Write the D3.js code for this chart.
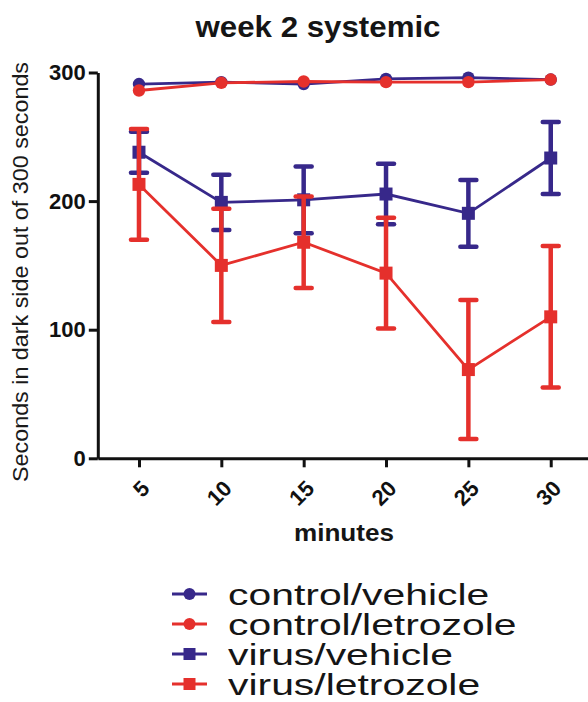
<!DOCTYPE html>
<html>
<head>
<meta charset="utf-8">
<script src="https://cdn.jsdelivr.net/npm/d3@7"></script>
<style>
  html, body { margin: 0; padding: 0; background: #fff; }
  svg { display: block; font-family: "Liberation Sans", Arial, sans-serif; }
</style>
</head>
<body>
<svg id="chart" width="588" height="702"></svg>
<script>
// ---- data ----
const minutes = [5, 10, 15, 20, 25, 30];
const xTicks = [5, 10, 15, 20, 25, 30];
const yTicks = [0, 100, 200, 300];
const seriesNames = ["control/vehicle", "control/letrozole", "virus/vehicle", "virus/letrozole"];
const ctrlVehicle = [291, 292.5, 291, 295, 296, 294.5];
const ctrlLetrozole = [286, 292, 293, 292.5, 292.5, 294.5];
const virusVehicle = [238, 199, 201, 205.5, 190.5, 233.5];
const virusVehicleErr = [16, 21.5, 26, 23.5, 26, 28];
const virusLetrozole = [213, 150, 168, 144, 69, 110];
const virusLetrozoleErr = [43, 44, 35.5, 43, 54, 55];

const NAVY = "#37288a";
const RED = "#e5302c";

const series = [
  { name: seriesNames[0], values: ctrlVehicle, err: null, color: NAVY, shape: "circle" },
  { name: seriesNames[1], values: ctrlLetrozole, err: null, color: RED, shape: "circle" },
  { name: seriesNames[2], values: virusVehicle, err: virusVehicleErr, color: NAVY, shape: "square" },
  { name: seriesNames[3], values: virusLetrozole, err: virusLetrozoleErr, color: RED, shape: "square" }
];

const svg = d3.select("#chart");
const x = d3.scaleLinear().domain([2.5, 32.5]).range([97.8, 591.9]);
const y = d3.scaleLinear().domain([0, 300]).range([458.3, 72.5]);

// title
svg.append("text")
  .attr("x", 318).attr("y", 37)
  .attr("text-anchor", "middle")
  .attr("font-size", 29).attr("font-weight", "bold")
  .attr("textLength", 245).attr("lengthAdjust", "spacingAndGlyphs")
  .attr("fill", "#151515")
  .text("week 2 systemic");

// y axis
const yAxis = svg.append("g")
  .attr("transform", `translate(${x(2.5)},0)`)
  .call(d3.axisLeft(y).tickValues(yTicks).tickSize(9).tickPadding(3).tickSizeOuter(0));
yAxis.select(".domain").attr("stroke", "#111").attr("stroke-width", 3);
yAxis.selectAll(".tick line").attr("stroke", "#111").attr("stroke-width", 3);
yAxis.selectAll(".tick text")
  .attr("font-size", 22).attr("font-weight", "bold").attr("fill", "#111")
  .attr("font-family", "'Liberation Sans', Arial, sans-serif");

// x axis
const xAxis = svg.append("g")
  .attr("transform", `translate(0,${y(0)})`)
  .call(d3.axisBottom(x).tickValues(xTicks).tickSize(9).tickSizeOuter(0).tickFormat(d3.format("d")));
xAxis.select(".domain").attr("stroke", "#111").attr("stroke-width", 3);
xAxis.selectAll(".tick line").attr("stroke", "#111").attr("stroke-width", 3);
xAxis.selectAll(".tick text")
  .attr("font-size", 22).attr("font-weight", "bold").attr("fill", "#111")
  .attr("font-family", "'Liberation Sans', Arial, sans-serif")
  .attr("text-anchor", "end")
  .attr("transform", "translate(6,26) rotate(-45)")
  .attr("x", 0).attr("y", 0).attr("dy", "0.35em");

// axis labels
svg.append("text")
  .attr("x", 344).attr("y", 541)
  .attr("text-anchor", "middle")
  .attr("font-size", 24).attr("font-weight", "bold")
  .attr("textLength", 100).attr("lengthAdjust", "spacingAndGlyphs")
  .attr("fill", "#151515")
  .text("minutes");

svg.append("text")
  .attr("transform", "translate(28,272) rotate(-90)")
  .attr("text-anchor", "middle")
  .attr("font-size", 22.5)
  .attr("textLength", 420).attr("lengthAdjust", "spacingAndGlyphs")
  .attr("fill", "#1a1a1a")
  .text("Seconds in dark side out of 300 seconds");

// series
const line = d3.line().x((d, i) => x(minutes[i])).y(d => y(d));
const plot = svg.append("g");

series.forEach(s => {
  const g = plot.append("g");
  if (s.err) {
    const eb = g.selectAll(".err").data(s.values).enter().append("g");
    eb.append("line")
      .attr("x1", (d, i) => x(minutes[i])).attr("x2", (d, i) => x(minutes[i]))
      .attr("y1", (d, i) => y(d + s.err[i])).attr("y2", (d, i) => y(d - s.err[i]))
      .attr("stroke", s.color).attr("stroke-width", 4.5);
    [1, -1].forEach(sign => {
      eb.append("line")
        .attr("x1", (d, i) => x(minutes[i]) - 8).attr("x2", (d, i) => x(minutes[i]) + 8)
        .attr("y1", (d, i) => y(d + sign * s.err[i])).attr("y2", (d, i) => y(d + sign * s.err[i]))
        .attr("stroke", s.color).attr("stroke-width", 4.5).attr("stroke-linecap", "round");
    });
  }
  g.append("path").datum(s.values)
    .attr("d", line).attr("fill", "none")
    .attr("stroke", s.color).attr("stroke-width", 2.8);
  if (s.shape === "circle") {
    g.selectAll("circle").data(s.values).enter().append("circle")
      .attr("cx", (d, i) => x(minutes[i])).attr("cy", d => y(d))
      .attr("r", 6.2).attr("fill", s.color);
  } else {
    g.selectAll("rect").data(s.values).enter().append("rect")
      .attr("x", (d, i) => x(minutes[i]) - 6.5).attr("y", d => y(d) - 6.5)
      .attr("width", 13).attr("height", 13).attr("fill", s.color);
  }
});

// legend
const legendY = d3.scaleLinear().domain([0, 3]).range([594, 684]);
series.forEach((s, i) => {
  const ly = legendY(i);
  const lg = svg.append("g");
  lg.append("line").attr("x1", 172).attr("x2", 207).attr("y1", ly).attr("y2", ly)
    .attr("stroke", s.color).attr("stroke-width", 3);
  if (s.shape === "circle") {
    lg.append("circle").attr("cx", 189.5).attr("cy", ly).attr("r", 6).attr("fill", s.color);
  } else {
    lg.append("rect").attr("x", 183.5).attr("y", ly - 6).attr("width", 12).attr("height", 12).attr("fill", s.color);
  }
  lg.append("g").attr("transform", `translate(228,${ly + 11}) scale(1.41,1)`)
    .append("text")
    .attr("font-size", 29).attr("fill", "#151515")
    .text(s.name);
});
</script>
</body>
</html>
